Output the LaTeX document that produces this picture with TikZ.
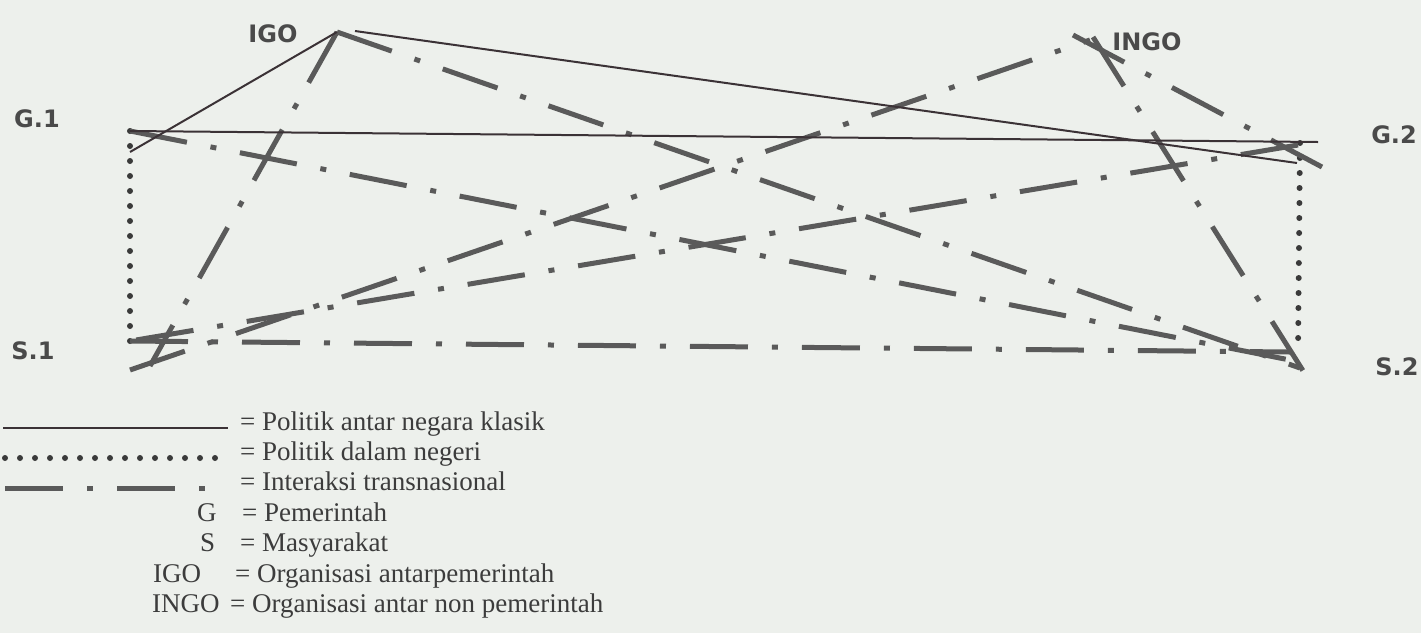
\documentclass[tikz,border=0pt]{standalone}
\usepackage{fontspec}
\setmainfont{Liberation Serif}
\newfontfamily\lblfont{DejaVu Sans}
\definecolor{bg}{HTML}{EDF0EC}
\definecolor{solidc}{HTML}{3B3236}
\definecolor{dotc}{HTML}{3A3A3A}
\definecolor{transc}{HTML}{5A5A5A}
\definecolor{labc}{HTML}{4A4A4A}
\definecolor{legc}{HTML}{3C3C3C}
\begin{document}
\begin{tikzpicture}[x=1pt,y=-1pt,
  classic/.style={draw=solidc, line width=2pt},
  domestic/.style={draw=dotc, line width=6pt, line cap=round, dash pattern=on 0pt off 15pt},
  transnat/.style={draw=transc, line width=5pt, dash pattern=on 58pt off 24pt on 6pt off 24pt},
  actor/.style={font=\lblfont\bfseries\fontsize{24}{24}\selectfont, text=labc, inner sep=0pt},
  legtext/.style={font=\fontsize{27}{27}\selectfont, text=legc, inner sep=0pt, anchor=mid west},
  legkey/.style={font=\fontsize{27}{27}\selectfont, text=legc, inner sep=0pt, anchor=mid west}
]
\fill[bg] (0,0) rectangle (1421,633);
\useasboundingbox (0,0) rectangle (1421,633);

% actor points
\coordinate (G1) at (130,131);
\coordinate (G2) at (1300,143);
\coordinate (S1) at (130,341);
\coordinate (S2) at (1298,352);
\coordinate (IGO) at (337,32);
\coordinate (IGOr) at (355,31);
\coordinate (INGO) at (1093,37);
% free ends
\coordinate (G2r) at (1318,142);
\coordinate (G1a) at (130,152);
\coordinate (G2b) at (1297,163);
\coordinate (S1x) at (150,366);
\coordinate (S1y) at (130,370);
\coordinate (S2a) at (1300,368);
\coordinate (S2b) at (1300,362);
\coordinate (S2c) at (1312,385);
\coordinate (S2d) at (1290,352);
\coordinate (INGOa) at (1090,40);
\coordinate (INGOb) at (1073,35);
\coordinate (G2c) at (1322,167);
\coordinate (G2d) at (1298,145);

% labels
\node[actor] (lIGO) at (273,34) {IGO};
\node[actor] (lINGO) at (1147,42) {INGO};
\node[actor] (lG1) at (37,119) {G.1};
\node[actor] (lG2) at (1394,135) {G.2};
\node[actor] (lS1) at (33,351) {S.1};
\node[actor] (lS2) at (1397,367) {S.2};

% politik dalam negeri
\draw[domestic] (G1) -- (S1);
\draw[domestic] (G2) -- (S2);

% interaksi transnasional
\draw[transnat] (S1) -- (S2d);
\draw[transnat] (IGO) -- (S1x);
\draw[transnat] (IGO) -- (S2a);
\draw[transnat] (G1) -- (S2b);
\draw[transnat] (G2d) -- (S1);
\draw[transnat] (S1y) -- (INGOa);
\draw[transnat] (INGO) -- (S2c);
\draw[transnat] (INGOb) -- (G2c);

% politik antar negara klasik
\draw[classic] (G1) -- (G2r);
\draw[classic] (IGO) -- (G1a);
\draw[classic] (IGOr) -- (G2b);

% legend
\coordinate (k1a) at (3,428);  \coordinate (k1b) at (228,428);
\coordinate (k2a) at (5,458);  \coordinate (k2b) at (217,458);
\coordinate (k3a) at (5,488);  \coordinate (k3b) at (205,488);
\draw[classic] (k1a) -- (k1b);
\draw[domestic] (k2a) -- (k2b);
\draw[transnat] (k3a) -- (k3b);
\node[legtext] (t1) at (240,428) {= Politik antar negara klasik};
\node[legtext] (t2) at (240,458) {= Politik dalam negeri};
\node[legtext] (t3) at (240,488) {= Interaksi transnasional};
\node[legkey] (kG) at (197,519) {G};
\node[legtext] (t4) at (242,519) {= Pemerintah};
\node[legkey] (kS) at (200,549) {S};
\node[legtext] (t5) at (240,549) {= Masyarakat};
\node[legkey] (kIGO) at (153,580) {IGO};
\node[legtext] (t6) at (235,580) {= Organisasi antarpemerintah};
\node[legkey] (kINGO) at (152,610) {INGO};
\node[legtext] (t7) at (230,610) {= Organisasi antar non pemerintah};
\end{tikzpicture}
\end{document}
